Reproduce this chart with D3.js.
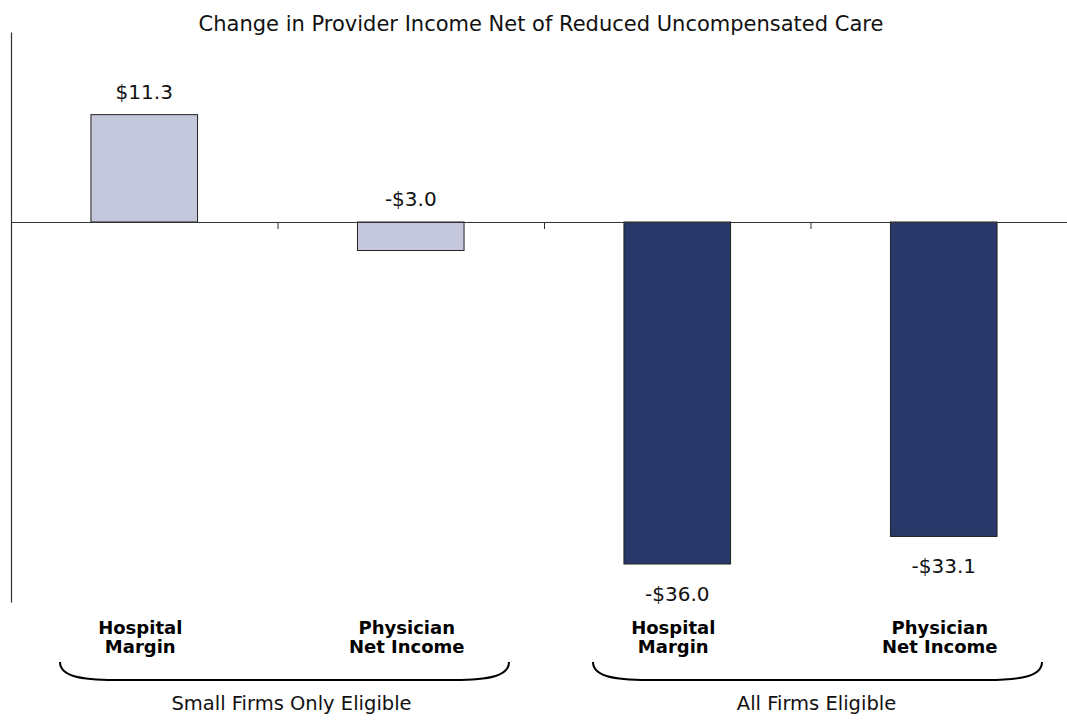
<!DOCTYPE html>
<html>
<head>
<meta charset="utf-8">
<script src="https://cdn.jsdelivr.net/npm/d3@7"></script>
<style>
  html, body { margin: 0; padding: 0; background: #ffffff; }
  svg { display: block; }
</style>
</head>
<body>
<svg id="chart" width="1067" height="723"></svg>
<script>
// ---- data ----
const titleText = "Change in Provider Income Net of Reduced Uncompensated Care";
const categories = ["hm_small", "pn_small", "hm_all", "pn_all"];
const categoryLines = [["Hospital", "Margin"], ["Physician", "Net Income"], ["Hospital", "Margin"], ["Physician", "Net Income"]];
const values = [11.3, -3.0, -36.0, -33.1];
const valueLabels = ["$11.3", "-$3.0", "-$36.0", "-$33.1"];
const groups = ["Small Firms Only Eligible", "All Firms Eligible"];
const groupMembers = [["hm_small", "pn_small"], ["hm_all", "pn_all"]];
const seriesColors = ["#c5c7dc", "#c5c7dc", "#283868", "#283868"];
const yDomain = [-40, 20];

// ---- layout ----
const svg = d3.select("#chart");
const x = d3.scaleBand().domain(categories).range([11, 1077]).paddingInner(0.6).paddingOuter(0.3);
const y = d3.scaleLinear().domain(yDomain).range([602, 32]);
const step = x.step();
const groupLabelShift = [14, 6];

// title
svg.append("text")
  .attr("x", 541).attr("y", 31)
  .attr("text-anchor", "middle")
  .attr("font-family", "DejaVu Sans")
  .attr("font-size", 21)
  .attr("fill", "#111")
  .text(titleText);

// bars
svg.selectAll("rect.bar").data(categories).join("rect")
  .attr("class", "bar")
  .attr("x", d => x(d))
  .attr("width", x.bandwidth())
  .attr("y", (d, i) => y(Math.max(0, values[i])))
  .attr("height", (d, i) => Math.abs(y(values[i]) - y(0)))
  .attr("fill", (d, i) => seriesColors[i])
  .attr("stroke", "#222")
  .attr("stroke-width", 1);

// y axis (no ticks)
const yAxis = d3.axisLeft(y).tickValues([]).tickSizeOuter(0);
svg.append("g").attr("transform", "translate(11,0)").call(yAxis)
  .call(g => g.select(".domain").attr("stroke", "#333").attr("stroke-width", 1.2));

// zero baseline with ticks at band boundaries
const tickScale = d3.scaleLinear().domain([0, categories.length]).range([11, 11 + step * categories.length]);
const xAxis = d3.axisBottom(tickScale).tickValues([0, 1, 2, 3]).tickFormat("").tickSize(7).tickSizeOuter(0);
svg.append("g").attr("transform", `translate(0,${y(0)})`).call(xAxis)
  .call(g => g.select(".domain").attr("stroke", "#333").attr("stroke-width", 1.2))
  .call(g => g.selectAll(".tick line").attr("stroke", "#333"));

// value labels
svg.selectAll("text.val").data(categories).join("text")
  .attr("class", "val")
  .attr("x", d => x(d) + x.bandwidth() / 2)
  .attr("y", (d, i) => values[i] < -10 ? y(values[i]) + 37 : y(Math.max(0, values[i])) - 16)
  .attr("text-anchor", "middle")
  .attr("font-family", "DejaVu Sans")
  .attr("font-size", 20)
  .attr("fill", "#111")
  .text((d, i) => valueLabels[i]);

// category labels
const catG = svg.selectAll("text.cat").data(categories).join("text")
  .attr("class", "cat")
  .attr("text-anchor", "middle")
  .attr("font-family", "DejaVu Sans")
  .attr("font-weight", "bold")
  .attr("font-size", 18)
  .attr("fill", "#000");
catG.each(function(d, i) {
  const t = d3.select(this);
  categoryLines[i].forEach((line, j) => {
    t.append("tspan")
      .attr("x", x(d) + x.bandwidth() / 2 - 4)
      .attr("y", 634 + j * 19)
      .text(line);
  });
});

// braces and group labels
groups.forEach((g, gi) => {
  const m = groupMembers[gi];
  const gx0 = x(m[0]) - step * 0.3;
  const gx1 = x(m[m.length - 1]) + x.bandwidth() + step * 0.3;
  const x0 = gx0 + 49, x1 = gx1 - 35;
  const yTop = 662, yBot = 680;
  const p = d3.path();
  p.moveTo(x0, yTop);
  p.bezierCurveTo(x0, yBot - 4, x0 + 20, yBot, x0 + 55, yBot);
  p.lineTo(x1 - 55, yBot);
  p.bezierCurveTo(x1 - 20, yBot, x1, yBot - 4, x1, yTop);
  svg.append("path").attr("d", p.toString())
    .attr("fill", "none").attr("stroke", "#000").attr("stroke-width", 2);
  svg.append("text")
    .attr("x", (gx0 + gx1) / 2 + groupLabelShift[gi])
    .attr("y", 710)
    .attr("text-anchor", "middle")
    .attr("font-family", "DejaVu Sans")
    .attr("font-size", 19.5)
    .attr("fill", "#111")
    .text(g);
});
</script>
</body>
</html>
